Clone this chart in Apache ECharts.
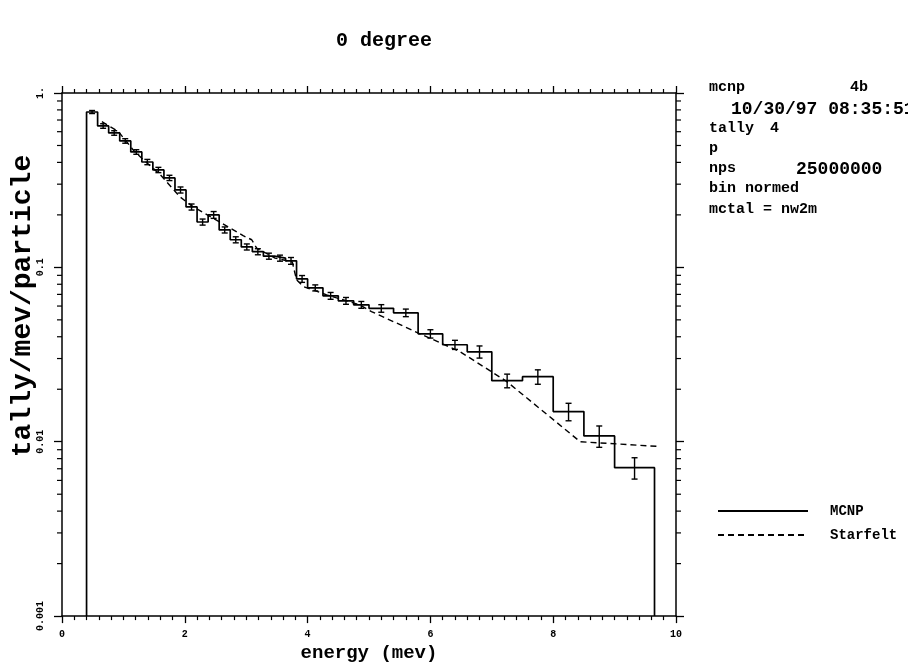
<!DOCTYPE html>
<html>
<head>
<meta charset="utf-8">
<script src="https://cdn.jsdelivr.net/npm/echarts@6/dist/echarts.min.js"></script>
<style>
html,body{margin:0;padding:0;background:#fff;}
#main{width:908px;height:668px;}
</style>
</head>
<body>
<div id="main"></div>
<script>
// MCNP tally, bin edges (mev) and bin values
var binEdges = [0.4, 0.58, 0.76, 0.94, 1.12, 1.30, 1.48, 1.66, 1.84, 2.02, 2.20, 2.38, 2.56, 2.74, 2.92, 3.10, 3.28, 3.46, 3.64, 3.82, 4.0,
  4.25, 4.5, 4.75, 5.0, 5.4, 5.8, 6.2, 6.6, 7.0, 7.5, 8.0, 8.5, 9.0, 9.65];
var mcnpValues = [0.778, 0.647, 0.590, 0.531, 0.459, 0.402, 0.362, 0.326, 0.278, 0.222, 0.182, 0.200, 0.164, 0.144, 0.131, 0.123, 0.116, 0.113, 0.109, 0.0859,
  0.0763, 0.0687, 0.0643, 0.0610, 0.0582, 0.0549, 0.0416, 0.0360, 0.0328, 0.0224, 0.0236, 0.0149, 0.0108, 0.0071];
var mcnpRelErr = [0.02, 0.03, 0.03, 0.03, 0.03, 0.035, 0.035, 0.035, 0.04, 0.04, 0.04, 0.045, 0.04, 0.04, 0.04, 0.04, 0.04, 0.04, 0.045, 0.045,
  0.04, 0.045, 0.045, 0.045, 0.05, 0.05, 0.055, 0.06, 0.08, 0.09, 0.095, 0.115, 0.14, 0.14];

// Starfelt curve (dashed)
var starfeltE = [0.65, 0.92, 1.16, 1.30, 1.60, 1.92, 2.13, 2.57, 2.95, 3.09, 3.17, 3.47, 3.75, 3.82, 3.93, 4.31, 4.85, 5.04, 5.83, 6.48, 7.24, 8.44, 9.71];
var starfeltV = [0.685, 0.600, 0.471, 0.422, 0.34, 0.254, 0.223, 0.182, 0.152, 0.144, 0.129, 0.113, 0.1075, 0.0848, 0.0776, 0.0696, 0.0610, 0.0558, 0.0416, 0.0329, 0.0222, 0.0100, 0.0094];

// log axis minor tick values
var logMinorTicks = [0.002, 0.003, 0.004, 0.005, 0.006, 0.007, 0.008, 0.009,
  0.02, 0.03, 0.04, 0.05, 0.06, 0.07, 0.08, 0.09,
  0.2, 0.3, 0.4, 0.5, 0.6, 0.7, 0.8, 0.9];

var yMin = 0.001;
var FONT = '"Liberation Mono", "DejaVu Sans Mono", monospace';

// step line for the histogram
var stepData = [[binEdges[0], yMin]];
for (var i = 0; i < mcnpValues.length; i++) {
  stepData.push([binEdges[i], mcnpValues[i]]);
  stepData.push([binEdges[i + 1], mcnpValues[i]]);
}
stepData.push([binEdges[binEdges.length - 1], yMin]);

var errData = [];
for (var i = 0; i < mcnpValues.length; i++) {
  errData.push([(binEdges[i] + binEdges[i + 1]) / 2, mcnpValues[i], mcnpRelErr[i]]);
}

var starfeltData = starfeltE.map(function (e, i) { return [e, starfeltV[i]]; });

var axisCommon = {
  axisLine: { show: true, onZero: false, lineStyle: { color: '#000', width: 1.5 } },
  splitLine: { show: false }
};

function txt(x, y, s, size) {
  return { type: 'text', left: x, top: y, style: { text: s, font: 'bold ' + size + 'px ' + FONT, fill: '#000' } };
}

var chart = echarts.init(document.getElementById('main'));
chart.setOption({
  animation: false,
  backgroundColor: '#fff',
  title: {
    text: '0 degree',
    left: 331, top: 26,
    textStyle: { fontFamily: FONT, fontSize: 20, fontWeight: 'bold', color: '#000' }
  },
  grid: { left: 62, top: 93, width: 614, height: 524 },
  legend: {
    data: ['MCNP', 'Starfelt'],
    orient: 'vertical',
    left: 712, top: 499,
    itemWidth: 90, itemHeight: 10, itemGap: 10,
    itemStyle: { opacity: 0, borderWidth: 0 },
    textStyle: { fontFamily: FONT, fontSize: 14, fontWeight: 'bold', color: '#000', padding: [0, 0, 0, 17] }
  },
  xAxis: [
    Object.assign({
      type: 'value', min: 0, max: 10, interval: 2, position: 'bottom',
      name: 'energy (mev)', nameLocation: 'middle', nameGap: 26,
      nameTextStyle: { fontFamily: FONT, fontSize: 19, fontWeight: 'bold', color: '#000' },
      axisTick: { show: true, inside: false, length: 7, lineStyle: { color: '#000', width: 1.3 } },
      minorTick: { show: true, splitNumber: 10, length: 4, lineStyle: { color: '#000', width: 1.2 } },
      axisLabel: { fontFamily: FONT, fontSize: 10, fontWeight: 'bold', color: '#000', margin: 13 }
    }, axisCommon),
    Object.assign({
      type: 'value', min: 0, max: 10, interval: 2, position: 'top',
      axisTick: { show: true, inside: false, length: 7, lineStyle: { color: '#000', width: 1.3 } },
      minorTick: { show: true, splitNumber: 10, length: 4, lineStyle: { color: '#000', width: 1.2 } },
      axisLabel: { show: false }
    }, axisCommon)
  ],
  yAxis: [
    Object.assign({
      type: 'log', logBase: 10, min: 0.001, max: 1, position: 'left',
      axisTick: { show: true, inside: false, length: 8, lineStyle: { color: '#000', width: 1.3 } },
      minorTick: { show: false },
      axisLabel: {
        fontFamily: FONT, fontSize: 10, fontWeight: 'bold', color: '#000', rotate: 90, margin: 17,
        formatter: function (v) { return v === 1 ? '1.' : String(v); }
      }
    }, axisCommon),
    Object.assign({
      type: 'log', logBase: 10, min: 0.001, max: 1, position: 'right',
      axisTick: { show: true, inside: false, length: 8, lineStyle: { color: '#000', width: 1.3 } },
      minorTick: { show: false },
      axisLabel: { show: false }
    }, axisCommon)
  ],
  graphic: [
    {
      type: 'text', x: 23, y: 306, rotation: Math.PI / 2,
      style: { text: 'tally/mev/particle', font: 'bold 28px ' + FONT, fill: '#000', align: 'center', verticalAlign: 'middle' }
    },
    txt(709, 80, 'mcnp', 15),
    txt(850, 80, '4b', 15),
    txt(731, 100, '10/30/97 08:35:51', 18),
    txt(709, 121, 'tally', 15),
    txt(770, 121, '4', 15),
    txt(709, 141, 'p', 15),
    txt(709, 161, 'nps', 15),
    txt(796, 160, '25000000', 18),
    txt(709, 181, 'bin normed', 15),
    txt(709, 202, 'mctal = nw2m', 15)
  ],
  series: [
    {
      name: 'MCNP', type: 'line', data: stepData,
      xAxisIndex: 0, yAxisIndex: 0,
      symbol: 'none', showSymbol: false,
      lineStyle: { color: '#000', width: 1.7 },
      itemStyle: { color: '#000' },
      z: 3
    },
    {
      name: 'MCNP err', type: 'custom', data: errData,
      xAxisIndex: 0, yAxisIndex: 0,
      renderItem: function (params, api) {
        var x = api.value(0), v = api.value(1), e = api.value(2);
        var lo = api.coord([x, v * (1 - e)]);
        var hi = api.coord([x, v * (1 + e)]);
        var c = 3;
        var st = { stroke: '#000', lineWidth: 1.4 };
        return {
          type: 'group',
          children: [
            { type: 'line', shape: { x1: lo[0], y1: lo[1], x2: hi[0], y2: hi[1] }, style: st },
            { type: 'line', shape: { x1: lo[0] - c, y1: lo[1], x2: lo[0] + c, y2: lo[1] }, style: st },
            { type: 'line', shape: { x1: hi[0] - c, y1: hi[1], x2: hi[0] + c, y2: hi[1] }, style: st }
          ]
        };
      },
      z: 4
    },
    {
      name: 'Starfelt', type: 'line', data: starfeltData,
      xAxisIndex: 0, yAxisIndex: 0,
      symbol: 'none', showSymbol: false,
      lineStyle: { color: '#000', width: 1.4, type: [6, 4] },
      itemStyle: { color: '#000' },
      z: 2
    },
    {
      name: 'log minor ticks', type: 'custom', data: logMinorTicks.map(function (v) { return [0, v]; }),
      xAxisIndex: 0, yAxisIndex: 0, clip: false, silent: true,
      renderItem: function (params, api) {
        var v = api.value(1);
        var l = api.coord([0, v]);
        var r = api.coord([10, v]);
        var st = { stroke: '#000', lineWidth: 1.2 };
        return {
          type: 'group',
          children: [
            { type: 'line', shape: { x1: l[0] - 5, y1: l[1], x2: l[0], y2: l[1] }, style: st },
            { type: 'line', shape: { x1: r[0], y1: r[1], x2: r[0] + 5, y2: r[1] }, style: st }
          ]
        };
      }
    }
  ]
});
</script>
</body>
</html>
